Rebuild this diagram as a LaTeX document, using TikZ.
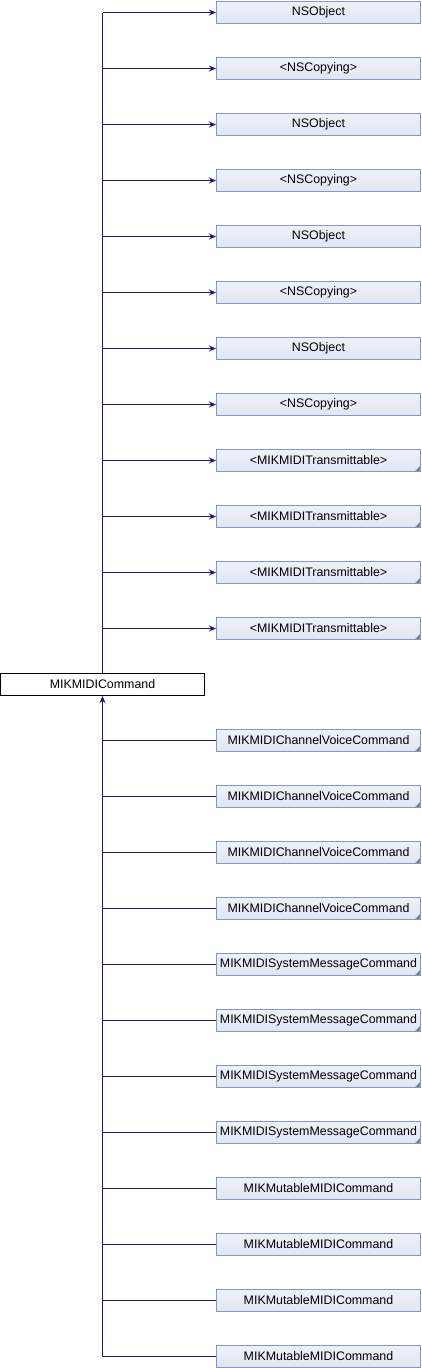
\documentclass[tikz,border=0pt]{standalone}
\usepackage{fontspec}
\setmainfont{Liberation Sans}
\usetikzlibrary{arrows.meta, positioning, calc}

\definecolor{edgecol}{HTML}{191970}
\definecolor{boxborder}{HTML}{8497C8}
\definecolor{boxtop}{HTML}{EEF1F8}
\definecolor{boxbottom}{HTML}{E0E5F1}

\begin{document}
\begin{tikzpicture}[
    x=1pt, y=-1pt,
    klass/.style={draw=boxborder, line width=1pt, top color=boxtop,
                  bottom color=boxbottom, minimum width=204pt,
                  minimum height=22pt, inner sep=0pt,
                  font=\fontsize{12.4}{14}\selectfont},
    leafbox/.style={klass},
    morebox/.style={klass, path picture={
        \fill[boxborder!90!black] (path picture bounding box.south east)
          -- ++(-6pt,0) -- ++(6pt,6pt) -- cycle;}},
    edge/.style={draw=edgecol, line width=1.1pt},
    >={Stealth[length=7pt, width=6pt]}
  ]
  \useasboundingbox (0,0) rectangle (422,1368);

  \node[klass, draw=black, top color=white, bottom color=white]
    (cmd) at (102.5, 684.5) {MIKMIDICommand};

  % superclasses and protocols
  \foreach \name/\kind [count=\i from 0] in {
      NSObject/leafbox, {<NSCopying>}/leafbox,
      NSObject/leafbox, {<NSCopying>}/leafbox,
      NSObject/leafbox, {<NSCopying>}/leafbox,
      NSObject/leafbox, {<NSCopying>}/leafbox,
      {<MIKMIDITransmittable>}/morebox, {<MIKMIDITransmittable>}/morebox,
      {<MIKMIDITransmittable>}/morebox, {<MIKMIDITransmittable>}/morebox} {
    \node[\kind] (p\i) at (318.5, 12.5+\i*56) {\name};
    \draw[edge, ->] (cmd.north |- p\i) -- (p\i.west);
  }
  \draw[edge] (cmd.north |- p0) -- (cmd.north);

  % subclasses
  \foreach \name/\kind [count=\i from 0] in {
      MIKMIDIChannelVoiceCommand/morebox, MIKMIDIChannelVoiceCommand/morebox,
      MIKMIDIChannelVoiceCommand/morebox, MIKMIDIChannelVoiceCommand/morebox,
      MIKMIDISystemMessageCommand/morebox, MIKMIDISystemMessageCommand/morebox,
      MIKMIDISystemMessageCommand/morebox, MIKMIDISystemMessageCommand/morebox,
      MIKMutableMIDICommand/leafbox, MIKMutableMIDICommand/leafbox,
      MIKMutableMIDICommand/leafbox, MIKMutableMIDICommand/leafbox} {
    \node[\kind] (c\i) at (318.5, 740.5+\i*56) {\name};
    \draw[edge] (cmd.south |- c\i) -- (c\i.west);
  }
  \draw[edge, ->] (cmd.south |- c11) -- (cmd.south);
\end{tikzpicture}
\end{document}
